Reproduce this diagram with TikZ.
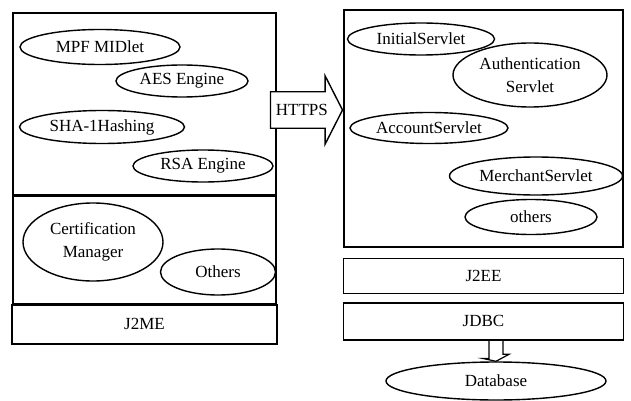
\documentclass[tikz,border=0pt]{standalone}
\usepackage{fontspec}
\setmainfont{Liberation Serif}
\usetikzlibrary{positioning, arrows.meta, shapes.geometric, shapes.arrows}

\begin{document}
\begin{tikzpicture}[
    x=1pt, y=-1pt,
    font=\fontsize{17}{23}\selectfont,
    box/.style={draw, line width=1.4pt, rectangle, inner sep=0pt},
    comp/.style={draw, line width=1.4pt, ellipse, inner sep=0pt, align=center},
    link/.style={draw, line width=1.4pt, single arrow, fill=white, anchor=tip,
        minimum height=72pt, text height=11pt, text depth=0pt, inner ysep=12pt,
        single arrow head extend=16pt, single arrow tip angle=126}
]
    \useasboundingbox (0,0) rectangle (631,401);

    % mobile client side
    \node[box, minimum width=263pt, minimum height=182pt] (client) at (144.5,104) {};
    \node[box, minimum width=263pt, minimum height=107pt, below=0pt of client] (certarea) {};
    \node[box, minimum width=265pt, minimum height=39pt, below=0pt of certarea] (j2me) {J2ME};

    \node[comp, minimum width=160pt, minimum height=35pt] (mpf) at (100,47) {MPF MIDlet};
    \node[comp, minimum width=132pt, minimum height=32pt] (aes) at (182,81) {AES Engine};
    \node[comp, minimum width=165pt, minimum height=33pt] (sha) at (102,127) {SHA-1Hashing};
    \node[comp, minimum width=140pt, minimum height=32pt] (rsa) at (203,166) {RSA Engine};
    \node[comp, minimum width=140pt, minimum height=78pt] (certmgr) at (93,242) {Certification\\Manager};
    \node[comp, minimum width=115pt, minimum height=46pt] (others) at (218,272) {Others};

    % server side
    \node[box, minimum width=279pt, minimum height=237pt] (server) at (483.5,128.5) {};
    \node[box, minimum width=280pt, minimum height=35pt, below=10pt of server] (j2ee) {J2EE};
    \node[box, minimum width=280pt, minimum height=37pt, below=8pt of j2ee] (jdbc) {JDBC};

    \node[comp, minimum width=147pt, minimum height=32pt] (initial) at (421,39) {InitialServlet};
    \node[comp, minimum width=154pt, minimum height=64pt] (auth) at (530,75) {Authentication\\Servlet};
    \node[comp, minimum width=158pt, minimum height=31pt] (account) at (429,128) {AccountServlet};
    \node[comp, minimum width=173pt, minimum height=38pt] (merchant) at (536,176) {MerchantServlet};
    \node[comp, minimum width=132pt, minimum height=35pt] (othersr) at (531,217) {others};

    \node[comp, minimum width=220pt, minimum height=38pt] (db) at (496,381) {Database};

    \node[link] (https) at ([yshift=18.5pt]server.west) {HTTPS};
    % hollow down arrow from JDBC to the database
    \draw[line width=1.2pt, line join=miter]
        ([xshift=-7pt]jdbc.south -| db) -- ++(0,18) -- ++(-6,0) -- (db.north)
        -- ++(13,-7) -- ++(-6,0) -- ([xshift=7pt]jdbc.south -| db);
\end{tikzpicture}
\end{document}
